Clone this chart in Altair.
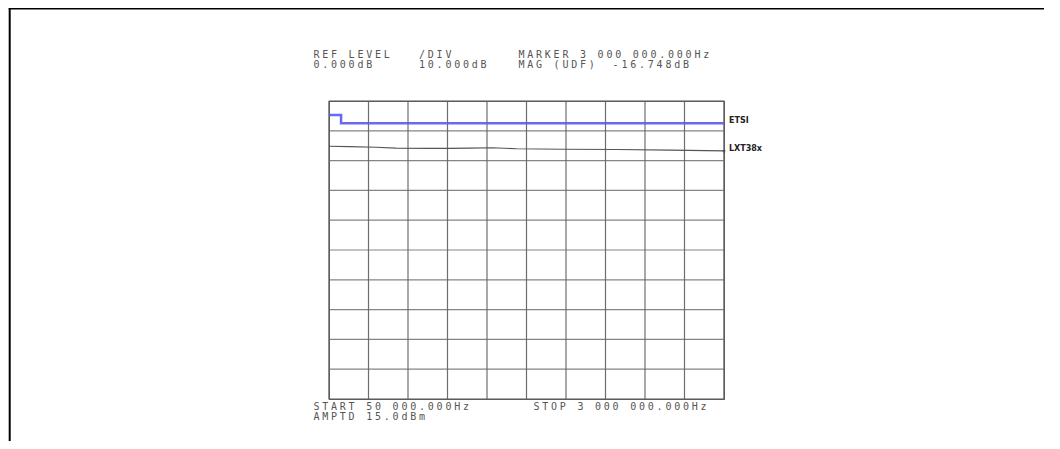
import altair as alt
import pandas as pd

# ---- data ----
etsi_freq_mhz = [0.05, 0.14, 0.14, 3.0]
etsi_db = [-4.7, -4.7, -7.5, -7.5]

lxt_freq_mhz = [0.05, 0.2, 0.4, 0.55, 0.8, 0.95, 1.1, 1.27, 1.45, 1.8, 2.2, 2.6, 3.0]
lxt_db = [-15.2, -15.3, -15.5, -15.8, -15.9, -15.9, -15.8, -15.7, -16.0, -16.2, -16.3, -16.5, -16.75]

x_start_mhz, x_stop_mhz = 0.05, 3.0
ref_level_db, db_per_div = 0.0, 10.0
n_div = 10

header_line1 = ["REF LEVEL", "/DIV", "MARKER 3 000 000.000Hz"]
header_line1_cols = [0, 12, 23.3]
header_line2 = ["0.000dB", "10.000dB", "MAG (UDF)", "-16.748dB"]
header_line2_cols = [0, 12, 23.3, 34]
footer_line1 = ["START 50 000.000Hz", "STOP 3 000 000.000Hz"]
footer_line1_cols = [0, 25]
footer_line2 = ["AMPTD 15.0dBm"]
footer_line2_cols = [0]

trace_labels = ["ETSI", "LXT38x"]

# ---- tables ----
etsi_df = pd.DataFrame({"f": etsi_freq_mhz, "db": etsi_db, "i": range(len(etsi_db))})
lxt_df = pd.DataFrame({"f": lxt_freq_mhz, "db": lxt_db})
label_df = pd.DataFrame({"f": [etsi_freq_mhz[-1], lxt_freq_mhz[-1]],
                         "db": [etsi_db[-1], lxt_db[-1]],
                         "label": trace_labels})

x_ticks = [x_start_mhz + k * (x_stop_mhz - x_start_mhz) / n_div for k in range(n_div + 1)]
y_ticks = [ref_level_db - k * db_per_div for k in range(n_div + 1)]
y_dom = [ref_level_db - n_div * db_per_div, ref_level_db]
vgrid_df = pd.DataFrame({"f": x_ticks})
hgrid_df = pd.DataFrame({"db": y_ticks})

chars = []
for line, (texts, cols) in enumerate([(header_line1, header_line1_cols),
                                       (header_line2, header_line2_cols),
                                       (footer_line1, footer_line1_cols),
                                       (footer_line2, footer_line2_cols)]):
    for t, c0 in zip(texts, cols):
        for i, ch in enumerate(t):
            if ch != " ":
                chars.append({"ch": ch, "col": c0 + i, "line": line})
chars_df = pd.DataFrame(chars)

xs = alt.Scale(domain=[x_start_mhz, x_stop_mhz], nice=False, zero=False)
ys = alt.Scale(domain=y_dom, nice=False, zero=False)

vgrid = alt.Chart(vgrid_df).mark_rule(color="#555", strokeWidth=1.2, opacity=0.85).encode(
    x=alt.X("f:Q", scale=xs, axis=None),
)
hgrid = alt.Chart(hgrid_df).mark_rule(color="#666", strokeWidth=1.2, opacity=0.8).encode(
    y=alt.Y("db:Q", scale=ys, axis=None),
)

etsi = alt.Chart(etsi_df).mark_line(color="#5a5af0", strokeWidth=2.5, opacity=0.9).encode(
    x=alt.X("f:Q", scale=xs, axis=None),
    y=alt.Y("db:Q", scale=ys, axis=None),
    order="i:Q",
)

lxt = alt.Chart(lxt_df).mark_line(color="#555", strokeWidth=1.1).encode(
    x=alt.X("f:Q", scale=xs, axis=None),
    y=alt.Y("db:Q", scale=ys, axis=None),
)

arrow = alt.Chart(label_df).transform_filter(alt.datum.label == "LXT38x").mark_point(
    shape="triangle-down", filled=True, color="#444", size=14, yOffset=1
).encode(
    x=alt.X("f:Q", scale=xs, axis=None),
    y=alt.Y("db:Q", scale=ys, axis=None),
)

labels = alt.Chart(label_df).mark_text(
    align="left", baseline="middle", dx=5, dy=-2, fontSize=8, fontWeight="bold",
    font="DejaVu Sans", color="#222"
).encode(
    x=alt.X("f:Q", scale=xs, axis=None),
    y=alt.Y("db:Q", scale=ys, axis=None),
    text="label:N",
)

main = alt.layer(vgrid, hgrid, etsi, lxt, arrow, labels)

text_layer = alt.Chart(chars_df).transform_calculate(
    px="-12.6 + 8.8 * datum.col",
    py="datum.line == 0 ? -46 : datum.line == 1 ? -36 : datum.line == 2 ? 306 : 316",
).mark_text(font="DejaVu Sans Mono", fontSize=10, color="#555", align="center",
            baseline="middle").encode(
    x=alt.X("px:Q", scale=None, axis=None),
    y=alt.Y("py:Q", scale=None, axis=None),
    text="ch:N",
)

frame_left = alt.Chart(pd.DataFrame({"a": [0]})).mark_rule(color="black", strokeWidth=2).encode(
    x=alt.value(-319.3), y=alt.value(-93), y2=alt.value(340)
)
frame_top = alt.Chart(pd.DataFrame({"a": [0]})).mark_rule(color="black", strokeWidth=2).encode(
    x=alt.value(-320.3), x2=alt.value(715), y=alt.value(-92.5)
)

chart = alt.layer(main, text_layer, frame_left, frame_top).resolve_scale(
    x="independent", y="independent"
).properties(
    width=395, height=298,
    autosize=alt.AutoSizeParams(type="none"),
    padding={"left": 321, "top": 93, "right": 320, "bottom": 42},
).configure_view(stroke="#555", strokeWidth=1.2)

chart.save("out.html", embed_options={"renderer": "svg", "actions": False})
